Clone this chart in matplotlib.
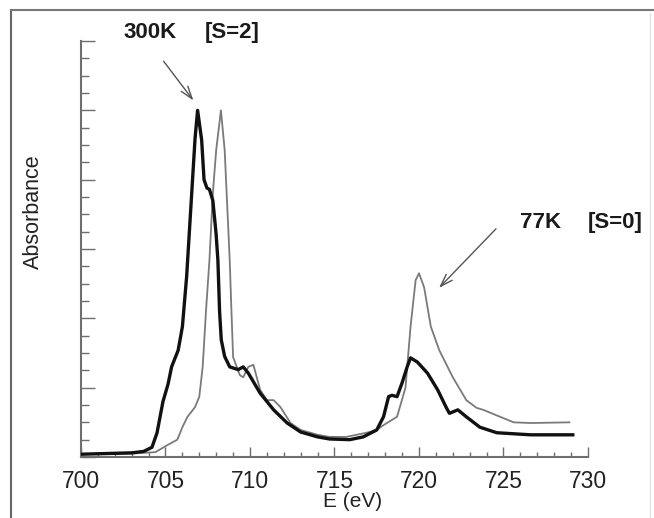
import numpy as np
import matplotlib
matplotlib.use("Agg")
import matplotlib.pyplot as plt
from matplotlib.lines import Line2D
from matplotlib.ticker import MultipleLocator

plt.rcParams['font.family'] = ['Liberation Sans', 'DejaVu Sans']

# 300K spectrum (thick black)
e_300 = [700.0, 701.5, 703.0, 703.7, 704.2, 704.5, 704.85, 705.15, 705.36, 705.75,
         706.0, 706.25, 706.5, 706.75, 706.9, 707.14, 707.28, 707.45, 707.6, 707.8,
         707.99, 708.1, 708.2, 708.3, 708.5, 708.8, 709.3, 709.6, 709.9, 710.6, 711.4,
         712.2, 713.0, 714.0, 714.7, 715.9, 716.7, 717.5, 717.9, 718.2, 718.4,
         718.7, 719.0, 719.3, 719.5, 719.9, 720.5, 721.1, 721.6, 721.8, 722.3,
         722.8, 723.6, 724.6, 726.6, 729.1]
a_300 = [0.04, 0.05, 0.06, 0.08, 0.14, 0.35, 0.8, 1.05, 1.3, 1.54,
         1.88, 2.6, 3.6, 4.6, 5.0, 4.57, 4.0, 3.88, 3.86, 3.7,
         3.23, 2.84, 2.1, 1.69, 1.45, 1.3, 1.26, 1.3, 1.21, 0.92, 0.68,
         0.49, 0.36, 0.29, 0.26, 0.25, 0.29, 0.39, 0.58, 0.87, 0.89,
         0.87, 1.07, 1.3, 1.43, 1.37, 1.21, 0.97, 0.72, 0.63, 0.68,
         0.58, 0.43, 0.35, 0.32, 0.32]

# 77K spectrum (thin grey)
e_77 = [700.0, 703.0, 704.4, 705.1, 705.7, 706.0, 706.3, 706.75, 707.0, 707.2,
        707.4, 707.6, 707.8, 708.0, 708.28, 708.5, 708.8, 708.9, 709.0, 709.4,
        709.6, 709.9, 710.2, 710.6, 711.0, 711.4, 711.8, 712.4, 713.0, 714.0,
        714.7, 715.7, 716.9, 717.5, 717.9, 718.7, 719.2, 719.5, 719.8, 720.0,
        720.3, 720.7, 721.2, 722.0, 722.8, 723.4, 723.8, 724.6, 725.6, 726.6,
        728.9]
a_77 = [0.04, 0.05, 0.07, 0.17, 0.25, 0.43, 0.58, 0.72, 0.87, 1.3,
        2.12, 2.84, 3.8, 4.43, 5.0, 4.43, 2.84, 2.12, 1.44, 1.18,
        1.15, 1.3, 1.33, 0.97, 0.82, 0.82, 0.72, 0.49, 0.39, 0.32,
        0.29, 0.29, 0.35, 0.39, 0.46, 0.58, 1.0, 1.88, 2.55, 2.65,
        2.45, 1.88, 1.54, 1.15, 0.82, 0.71, 0.68, 0.6, 0.5, 0.49,
        0.5]

x_ticks = [700, 705, 710, 715, 720, 725, 730]

axis_col = "#6e6e6e"

fig = plt.figure(figsize=(6.54, 5.18), dpi=100)
ax = fig.add_axes([81 / 654, 61 / 518, 507 / 654, 416 / 518])

ax.plot(e_77, a_77, color="#7a7a7a", lw=1.3, zorder=2)
ax.plot(e_300, a_300, color="#111111", lw=2.4, zorder=3)

ax.set_xlim(700, 730)
ax.set_ylim(0, 6)
ax.set_xticks(x_ticks)
ax.xaxis.set_minor_locator(MultipleLocator(1))
ax.yaxis.set_major_locator(MultipleLocator(1))
ax.yaxis.set_minor_locator(MultipleLocator(0.25))
ax.set_yticklabels([])

for s in ["top", "right"]:
    ax.spines[s].set_visible(False)
for s in ["left", "bottom"]:
    ax.spines[s].set_color(axis_col)
    ax.spines[s].set_linewidth(1.5)

ax.tick_params(axis="x", which="major", direction="in", length=7, width=1,
               color=axis_col, labelsize=16.5, pad=9, labelcolor="#222222")
ax.tick_params(axis="x", which="minor", direction="in", length=3.5, width=1,
               color=axis_col)
ax.tick_params(axis="y", which="major", direction="in", length=10, width=1,
               color=axis_col)
ax.tick_params(axis="y", which="minor", direction="in", length=6, width=1,
               color=axis_col)

ax.set_xlabel("E (eV)", fontsize=15, color="#222222")
ax.xaxis.set_label_coords(0.536, -0.085)
ax.set_ylabel("Absorbance", fontsize=15.5, color="#222222")
ax.yaxis.set_label_coords(-0.074, 0.589)

arrow_style = dict(arrowstyle="->,head_length=0.9,head_width=0.3",
                   color="#555555", lw=1.0)

ax.text(702.49, 6.12, "300K", fontsize=16, fontweight="bold",
        va="center", ha="left", color="#1a1a1a", clip_on=False)
ax.text(707.34, 6.12, "[S=2]", fontsize=16, fontweight="bold",
        va="center", ha="left", color="#1a1a1a", clip_on=False)
ax.annotate("", xy=(706.75, 5.11), xytext=(704.79, 5.74),
            arrowprops=arrow_style, annotation_clip=False)

ax.text(725.98, 3.38, "77K", fontsize=16, fontweight="bold",
        va="center", ha="left", color="#1a1a1a", clip_on=False)
ax.text(730.0, 3.38, "[S=0]", fontsize=16, fontweight="bold",
        va="center", ha="left", color="#1a1a1a", clip_on=False)
ax.annotate("", xy=(721.07, 2.41), xytext=(724.67, 3.32),
            arrowprops=arrow_style, annotation_clip=False)

# scan frame around the figure
fig.add_artist(Line2D([11 / 654, 11 / 654], [0, 508 / 518], color="#666666", lw=1.5))
fig.add_artist(Line2D([11 / 654, 1], [508 / 518, 508 / 518], color="#777777", lw=1.5))
fig.add_artist(Line2D([650 / 654, 650 / 654], [0, 505 / 518], color="#e2e2e2", lw=1.0))

fig.savefig("out.png", dpi=100)
